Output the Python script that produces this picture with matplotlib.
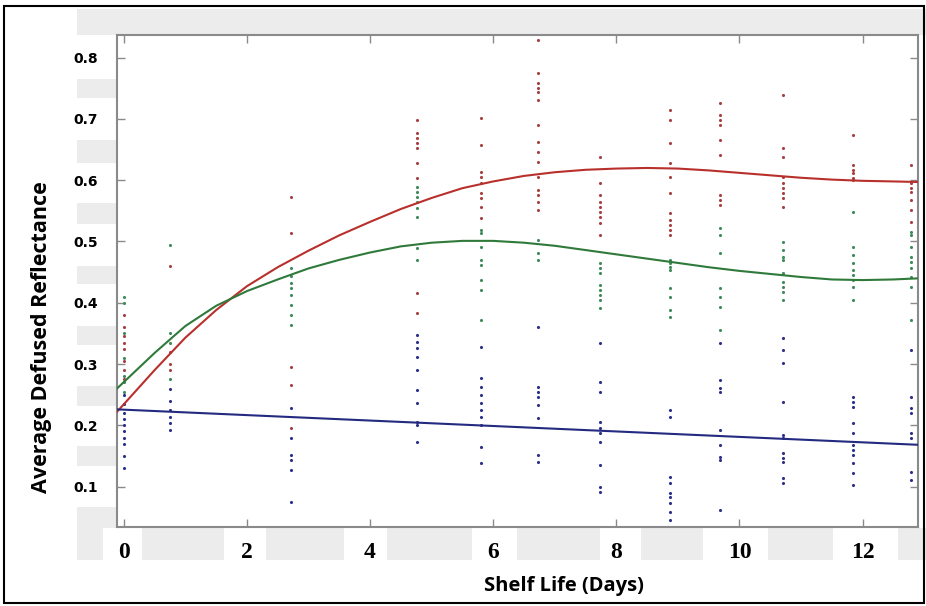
import numpy as np
import matplotlib.pyplot as plt
from matplotlib.patches import Rectangle

# sampling days (columns of measurements)
days = [0.0, 0.75, 2.72, 4.76, 5.8, 6.72, 7.74, 8.88, 9.69, 10.7, 11.84, 12.78]

# reflectance readings per day, one list per group
red_pts = [
    [0.38, 0.36, 0.345, 0.335, 0.325, 0.305, 0.29, 0.275],
    [0.46, 0.32, 0.30, 0.29],
    [0.573, 0.514, 0.295, 0.266, 0.196],
    [0.698, 0.677, 0.669, 0.661, 0.652, 0.628, 0.603, 0.416, 0.383],
    [0.701, 0.657, 0.613, 0.606, 0.595, 0.579, 0.571, 0.557, 0.538],
    [0.829, 0.775, 0.758, 0.75, 0.744, 0.731, 0.69, 0.662, 0.646, 0.63, 0.605, 0.584, 0.576, 0.565, 0.551],
    [0.638, 0.595, 0.576, 0.565, 0.557, 0.548, 0.54, 0.53, 0.511],
    [0.715, 0.698, 0.661, 0.628, 0.605, 0.579, 0.546, 0.535, 0.527, 0.519, 0.511],
    [0.726, 0.707, 0.698, 0.69, 0.666, 0.641, 0.576, 0.568, 0.56],
    [0.739, 0.652, 0.638, 0.605, 0.595, 0.587, 0.579, 0.571, 0.557],
    [0.674, 0.625, 0.617, 0.612, 0.603, 0.6],
    [0.625, 0.595, 0.587, 0.581, 0.568, 0.551, 0.532],
]
green_pts = [
    [0.41, 0.40, 0.35, 0.31, 0.28, 0.27, 0.255],
    [0.495, 0.35, 0.335, 0.275],
    [0.457, 0.443, 0.432, 0.424, 0.413, 0.396, 0.38, 0.364],
    [0.589, 0.581, 0.573, 0.565, 0.554, 0.54, 0.489, 0.47],
    [0.519, 0.514, 0.491, 0.47, 0.462, 0.437, 0.421, 0.372],
    [0.502, 0.481, 0.47],
    [0.465, 0.457, 0.448, 0.429, 0.421, 0.413, 0.405, 0.391],
    [0.47, 0.465, 0.458, 0.453, 0.424, 0.41, 0.388, 0.377],
    [0.522, 0.511, 0.481, 0.424, 0.41, 0.393, 0.356],
    [0.499, 0.486, 0.475, 0.47, 0.448, 0.434, 0.426, 0.418, 0.405],
    [0.548, 0.491, 0.478, 0.465, 0.453, 0.445, 0.437, 0.426, 0.405],
    [0.516, 0.511, 0.491, 0.475, 0.467, 0.457, 0.442, 0.426, 0.372],
]
blue_pts = [
    [0.25, 0.235, 0.22, 0.21, 0.2, 0.19, 0.18, 0.17, 0.15, 0.13],
    [0.26, 0.24, 0.225, 0.214, 0.204, 0.193],
    [0.228, 0.179, 0.152, 0.144, 0.127, 0.075],
    [0.348, 0.336, 0.326, 0.312, 0.29, 0.258, 0.236, 0.206, 0.2, 0.173],
    [0.328, 0.277, 0.263, 0.25, 0.236, 0.225, 0.214, 0.2, 0.165, 0.139],
    [0.361, 0.263, 0.254, 0.246, 0.233, 0.212, 0.152, 0.14],
    [0.334, 0.271, 0.254, 0.206, 0.196, 0.188, 0.173, 0.135, 0.1, 0.091],
    [0.225, 0.214, 0.116, 0.106, 0.09, 0.083, 0.073, 0.059, 0.046],
    [0.334, 0.274, 0.261, 0.254, 0.193, 0.168, 0.149, 0.144, 0.062],
    [0.343, 0.323, 0.301, 0.238, 0.184, 0.179, 0.155, 0.147, 0.14, 0.114, 0.106],
    [0.246, 0.238, 0.23, 0.204, 0.188, 0.168, 0.16, 0.152, 0.139, 0.122, 0.103],
    [0.323, 0.246, 0.228, 0.22, 0.188, 0.179, 0.124, 0.111],
]

# fitted trend curves
fit_days = [-0.11, 0.5, 1.0, 1.5, 2.0, 2.5, 3.0, 3.5, 4.0, 4.5, 5.0, 5.5, 6.0, 6.5,
            7.0, 7.5, 8.0, 8.5, 9.0, 9.5, 10.0, 10.5, 11.0, 11.5, 12.0, 12.5, 12.94]
red_fit = [0.222, 0.29, 0.343, 0.388, 0.427, 0.458, 0.485, 0.51, 0.532, 0.553, 0.571,
           0.587, 0.598, 0.607, 0.613, 0.617, 0.619, 0.62, 0.619, 0.616, 0.612, 0.608,
           0.604, 0.601, 0.599, 0.598, 0.597]
green_fit = [0.26, 0.318, 0.362, 0.395, 0.419, 0.438, 0.456, 0.47, 0.482, 0.492, 0.498,
             0.501, 0.501, 0.498, 0.493, 0.486, 0.479, 0.472, 0.465, 0.458, 0.452, 0.447,
             0.442, 0.438, 0.437, 0.438, 0.44]
blue_fit_days = [-0.11, 12.94]
blue_fit = [0.226, 0.168]

W, H = 926, 606
fig = plt.figure(figsize=(W / 100, H / 100), dpi=100)
fig.patch.set_facecolor('white')


def px_rect(x0, y0, x1, y1, color, z):
    # rectangle given in picture pixels (top-left origin)
    fig.add_artist(Rectangle((x0 / W, 1 - y1 / H), (x1 - x0) / W, (y1 - y0) / H,
                             transform=fig.transFigure, facecolor=color,
                             edgecolor='none', zorder=z))


band = '#ececec'
# top band, left column of patches, bottom band
px_rect(77, 9, 926, 35, band, -2)
for y0, y1 in [(79, 98), (140, 163), (203, 224), (266, 284), (326, 345),
               (386, 406), (446, 466), (507, 528)]:
    px_rect(77, y0, 117, y1, band, -2)
px_rect(77, 528, 926, 560, band, -2)
for x0, x1 in [(103, 142), (224, 266), (344, 387), (472, 517), (600, 641),
               (703, 768), (833, 898)]:
    px_rect(x0, 528, x1, 560, 'white', -1)

# outer frame
fig.add_artist(Rectangle((4 / W, 1 - 603 / H), 920 / W, 597 / H, transform=fig.transFigure,
                         facecolor='none', edgecolor='black', linewidth=1.5, zorder=5))

ax = fig.add_axes([117 / W, 1 - 527 / H, (918 - 117) / W, (527 - 35) / H])

for pts, col in [(red_pts, '#a8403f'), (green_pts, '#3e8a58'), (blue_pts, '#2b2f8a')]:
    xs = np.concatenate([[d] * len(p) for d, p in zip(days, pts)])
    ys = np.concatenate(pts)
    ax.scatter(xs, ys, s=5, color=col, linewidths=0, zorder=2)

ax.plot(fit_days, red_fit, color='#b8302c', lw=1.5, zorder=3)
ax.plot(fit_days, green_fit, color='#2f7a3a', lw=1.5, zorder=3)
ax.plot(blue_fit_days, blue_fit, color='#232a80', lw=1.5, zorder=3)

ax.set_xlim(-0.11, 12.9)
ax.set_ylim(0.034, 0.837)
ax.set_xticks([0, 2, 4, 6, 8, 10, 12])
ax.set_yticks([0.1, 0.2, 0.3, 0.4, 0.5, 0.6, 0.7, 0.8])
ax.set_yticklabels(['0.1', '0.2', '0.3', '0.4', '0.5', '0.6', '0.7', '0.8'])

for s in ax.spines.values():
    s.set_color('#8a8a8a')
    s.set_linewidth(1.5)
ax.tick_params(direction='in', length=6, width=1, color='#8a8a8a',
               top=True, right=True)
ax.tick_params(axis='y', pad=14)
ax.tick_params(axis='x', pad=11)
for lab in ax.get_yticklabels():
    lab.set_fontfamily('DejaVu Sans')
    lab.set_fontweight('bold')
    lab.set_fontsize(10)
for lab in ax.get_xticklabels():
    lab.set_fontfamily('Liberation Serif')
    lab.set_fontweight('bold')
    lab.set_fontsize(17)

fig.text(564 / W, 1 - 586 / H, 'Shelf Life (Days)', ha='center', va='center',
         family='Open Sans', fontweight='bold', fontsize=14.5)
fig.text(42 / W, 1 - 337 / H, 'Average Defused Reflectance', ha='center', va='center',
         rotation=90, family='Open Sans', fontweight='bold', fontsize=15.5)

fig.savefig('out.png', dpi=100)
